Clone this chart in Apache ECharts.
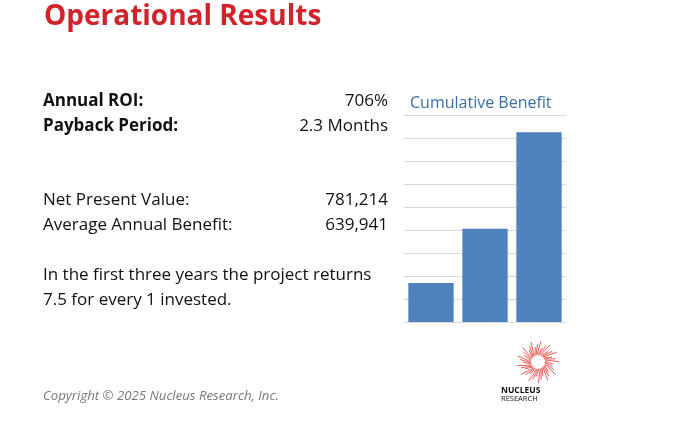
<!DOCTYPE html>
<html>
<head>
<meta charset="utf-8">
<script src="https://cdn.jsdelivr.net/npm/echarts@6/dist/echarts.min.js"></script>
<style>html,body{margin:0;padding:0;background:#fff}#chart{width:689px;height:433px}</style>
</head>
<body>
<div id="chart"></div>
<script>
var categories = ['Year 1', 'Year 2', 'Year 3'];
var benefitValues = [1.7, 4.05, 8.25];
var yTicks = [0, 9, 1]; // min, max, interval

var myChart = echarts.init(document.getElementById('chart'));
var font = '"Open Sans", sans-serif';

function txt(x, y, s, size, opts) {
    opts = opts || {};
    return {
        type: 'text', left: opts.right === undefined ? x : undefined, right: opts.right, top: y,
        style: { text: s, fontSize: size, fontFamily: font, fill: opts.color || '#111',
                 fontWeight: opts.bold ? 'bold' : 'normal', fontStyle: opts.italic ? 'italic' : 'normal' }
    };
}

var graphics = [
    txt(44, 3, 'Operational Results', 28, { color: '#d2232a', bold: true }),
    txt(43, 93, 'Annual ROI:', 17, { bold: true }),
    txt(43, 118, 'Payback Period:', 17, { bold: true }),
    txt(0, 93, '706%', 17, { right: 301 }),
    txt(0, 118, '2.3 Months', 17, { right: 301 }),
    txt(43, 192, 'Net Present Value:', 17),
    txt(43, 217, 'Average Annual Benefit:', 17),
    txt(0, 192, '781,214', 17, { right: 301 }),
    txt(0, 217, '639,941', 17, { right: 301 }),
    txt(43, 267, 'In the first three years the project returns', 17),
    txt(43, 292, '7.5 for every 1 invested.', 17),
    txt(43, 390, 'Copyright \u00a9 2025 Nucleus Research, Inc.', 13.2, { color: '#777', italic: true }),
    txt(501, 386, 'NUCLEUS', 8.5, { color: '#111', bold: true }),
    txt(501, 395, 'RESEARCH', 7.5, { color: '#111' })
];
// logo sunburst
var cx = 538, cy = 362;
for (var i = 0; i < 40; i++) {
    var a = i * Math.PI * 2 / 40, r1 = 7, r2 = 15 + (i % 3) * 3;
    graphics.push({ type: 'line', shape: { x1: cx + r1 * Math.cos(a), y1: cy + r1 * Math.sin(a),
        x2: cx + r2 * Math.cos(a + 0.3), y2: cy + r2 * Math.sin(a + 0.3) },
        style: { stroke: '#e8342f', lineWidth: 0.8 } });
}

var option = {
    animation: false,
    title: {
        text: 'Cumulative Benefit', left: 405, top: 90,
        textStyle: { color: '#3a6ea5', fontSize: 16, fontWeight: 'normal', fontFamily: font }
    },
    grid: { left: 404, right: 123, top: 115, bottom: 111 },
    xAxis: {
        type: 'category', data: categories,
        axisLine: { lineStyle: { color: '#d9d9d9' } },
        axisTick: { show: false }, axisLabel: { show: false }
    },
    yAxis: {
        type: 'value', min: yTicks[0], max: yTicks[1], interval: yTicks[2],
        axisLabel: { show: false }, axisLine: { show: false }, axisTick: { show: false },
        splitLine: { lineStyle: { color: '#d9d9d9' } }
    },
    series: [{
        type: 'bar', data: benefitValues, barCategoryGap: '16%',
        itemStyle: { color: '#4f81bd' }
    }],
    graphic: graphics
};

myChart.setOption(option);
</script>
</body>
</html>
